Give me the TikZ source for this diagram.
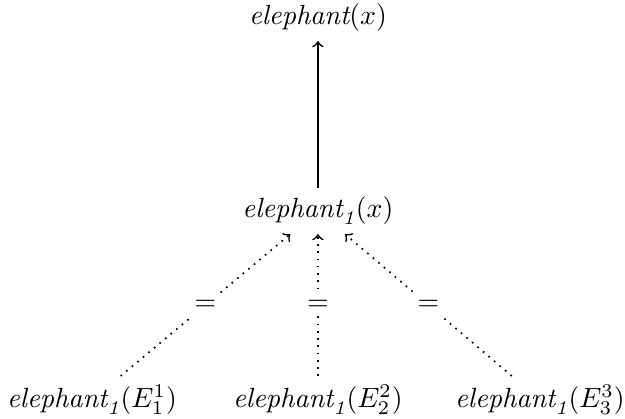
\documentclass[tikz,border=0pt]{standalone}
\usepackage{amsmath}
\usepackage{tikz}
\tikzset{term/.style={inner sep=3pt}}
\tikzset{eqlabel/.style={fill=white, inner sep=2pt}}

\begin{document}
\begin{tikzpicture}[semithick]
                    \useasboundingbox (0,0) rectangle (7.894,5.292);
                    \node[term] (T) at (4.016,5.065) {$\textit{elephant}(x)$};
                    \node[term] (M) at (4.016,2.627) {$\textit{elephant}_{\textit{1}}(x)$};

                    \node[term] (B1) at (1.162,0.24) {$\textit{elephant}_{\textit{1}}(E_1^1)$};
                    \node[term] (B2) at (4.016,0.24) {$\textit{elephant}_{\textit{1}}(E_2^2)$};
                    \node[term] (B3) at (6.82,0.24) {$\textit{elephant}_{\textit{1}}(E_3^3)$};

                    \draw[->] (M) -- (T);

                    \draw[->, dotted] (B1) -- node[eqlabel] {=} (M);
                    \draw[->, dotted] (B2) -- node[eqlabel] {=} (M);
                    \draw[->, dotted] (B3) -- node[eqlabel] {=} (M);

                 \end{tikzpicture}
\end{document}
